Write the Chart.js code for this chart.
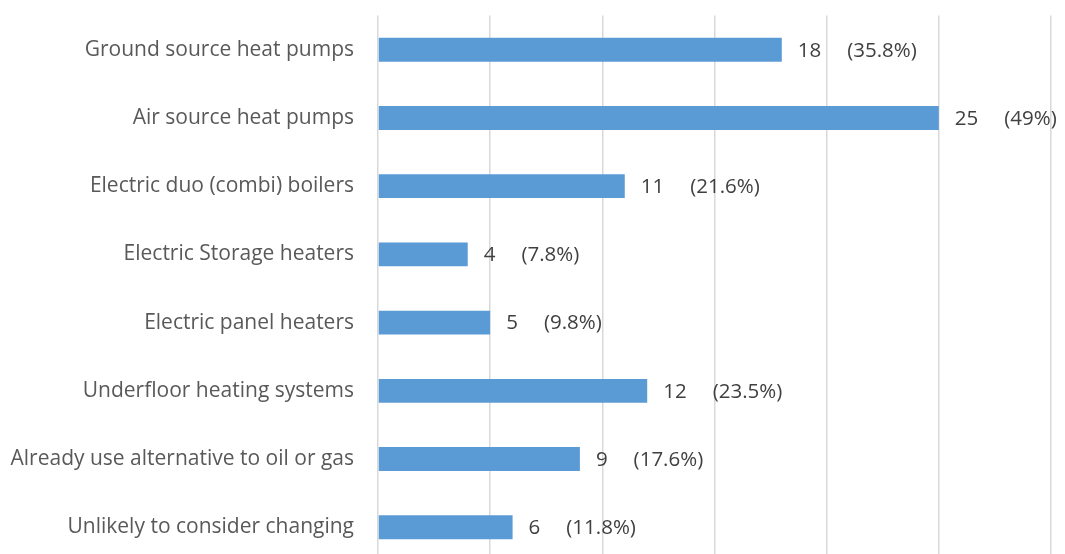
<!DOCTYPE html>
<html><head><meta charset="utf-8">
<script src="https://cdn.jsdelivr.net/npm/chart.js@4/dist/chart.umd.min.js"></script>
<style>html,body{margin:0;padding:0;background:#fff;overflow:hidden}#wrap{width:1065px;height:619px;margin-top:-21px;position:relative}</style>
</head><body><div id="wrap"><canvas id="c"></canvas></div>
<script>
const categories = ["Ground source heat pumps","Air source heat pumps","Electric duo (combi) boilers","Electric Storage heaters","Electric panel heaters","Underfloor heating systems","Already use alternative to oil or gas","Unlikely to consider changing"];
const counts = [18,25,11,4,5,12,9,6];
const percents = ["(35.8%)","(49%)","(21.6%)","(7.8%)","(9.8%)","(23.5%)","(17.6%)","(11.8%)"];
const FONT = "'Open Sans'";
const labelPlugin = {
  id:'lbl',
  afterDatasetsDraw(chart){
    const ctx=chart.ctx, meta=chart.getDatasetMeta(0);
    ctx.save();
    ctx.font = "20.5px "+FONT;
    ctx.fillStyle="#404040";
    ctx.textBaseline="middle";
    ctx.textAlign="left";
    meta.data.forEach((b,i)=>{
      const x=b.x+16, y=b.y+1;
      const t=String(counts[i]);
      ctx.fillText(t,x,y);
      const w=ctx.measureText(t).width;
      ctx.fillText(percents[i], x+w+26, y);
    });
    ctx.restore();
  }
};
new Chart(document.getElementById('c'),{
  type:'bar',
  data:{labels:categories,datasets:[{data:counts,backgroundColor:'#5b9bd5',borderColor:'#5b9bd5',borderWidth:0,barPercentage:0.35,categoryPercentage:1}]},
  options:{
    indexAxis:'y',responsive:true,maintainAspectRatio:false,animation:false,
    layout:{padding:{top:15,right:14,bottom:1,left:0}},
    plugins:{legend:{display:false},tooltip:{enabled:false}},
    scales:{
      x:{min:0,max:30,ticks:{display:false,stepSize:5},grid:{color:'#d9d9d9',lineWidth:1.5,drawTicks:false},border:{display:false}},
      y:{grid:{display:false,drawTicks:false},border:{display:false},ticks:{color:'#595959',font:{family:"Open Sans",size:21},padding:24},afterFit(s){s.width=378;}}
    }
  },
  plugins:[labelPlugin]
});
</script></body></html>
